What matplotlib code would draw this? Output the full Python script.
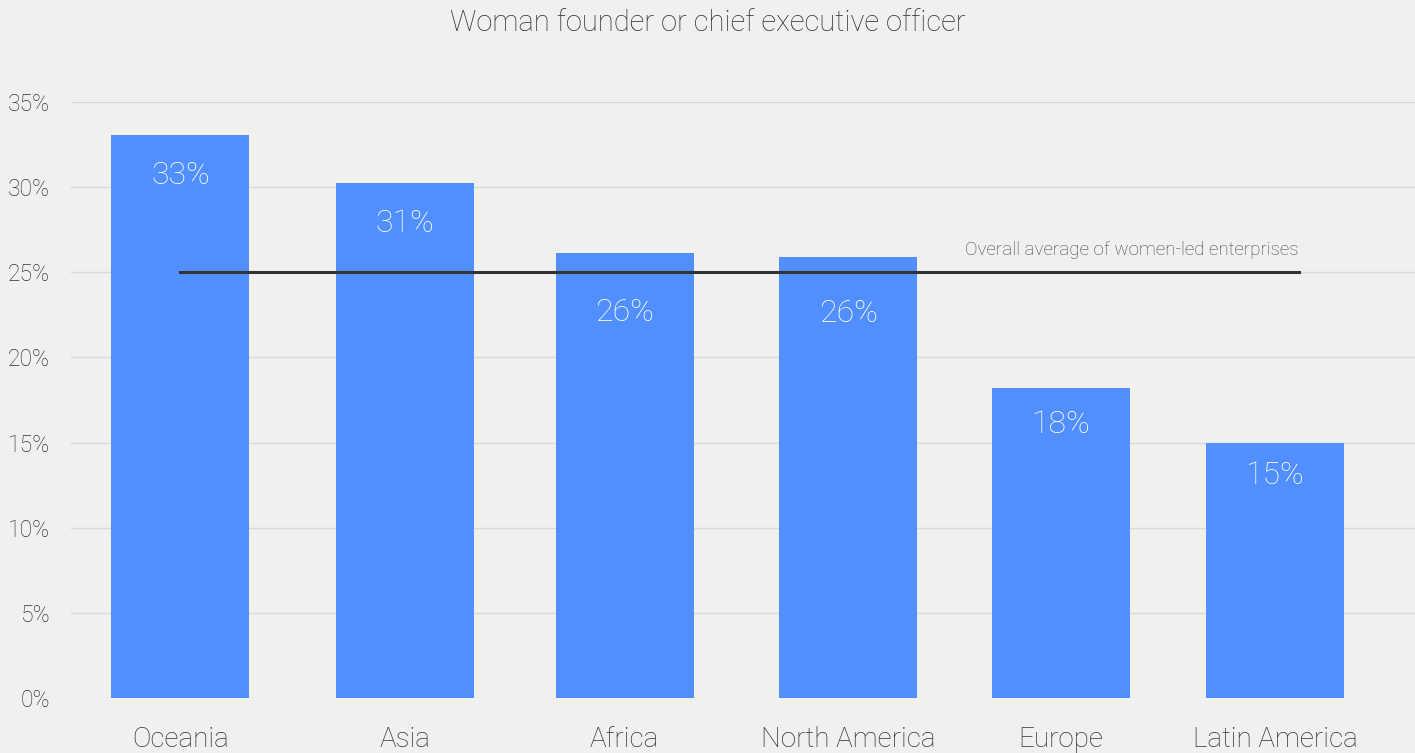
import numpy as np
import matplotlib.pyplot as plt

#--- data
regions = ["Oceania", "Asia", "Africa", "North America", "Europe", "Latin America"]
share = [33.05, 30.25, 26.15, 25.9, 18.2, 15.0]
labels = ["33%", "31%", "26%", "26%", "18%", "15%"]
overall_avg = 25.0
yticks = [0, 5, 10, 15, 20, 25, 30, 35]

# layout: bar centres (slightly uneven in the original) and label drops in px
x_pos = [0, 1.024, 2.029, 3.051, 4.022, 5.0]
label_drop = [40, 41, 60, 57, 36, 33]

plt.rcParams['font.family'] = ['Roboto', 'DejaVu Sans']
bg = '#f0f0ee'
txt = '#333333'

fig = plt.figure(figsize=(14.15, 7.53), dpi=100, facecolor=bg)
ax = fig.add_axes([71/1415, 1 - 698/753, 1 - 71/1415, (698 - 102)/753])
ax.set_facecolor(bg)

bars = ax.bar(x_pos, share, width=0.63, color='#528ffe', zorder=2)

# value labels inside the bars
px_per_unit = (698 - 102) / 35
for bar, lab, d in zip(bars, labels, label_drop):
    ax.text(bar.get_x() + bar.get_width()/2, bar.get_height() - d/px_per_unit, lab,
            ha='center', va='center', color='white', fontsize=23, fontweight='light', zorder=3)

# overall average line
x_end = 5.11
ax.plot([0, x_end], [overall_avg, overall_avg], color='#333333', lw=2.2, zorder=4)
ax.text(x_end, overall_avg + 1.3, "Overall average of women-led enterprises",
        ha='right', va='center', fontsize=13.5, color='#444444', fontweight='light')

ax.set_xlim(-0.5, 5.64)
ax.set_ylim(0, 35)
ax.set_yticks(yticks)
ax.set_yticklabels([f"{t}%" for t in yticks], fontsize=16.5, color=txt, fontweight='light')
ax.yaxis.grid(True, color='#d9d9d9', lw=1, zorder=0)
ax.set_xticks(x_pos)
ax.set_xticklabels(regions, fontsize=20, color=txt, fontweight='light')
ax.tick_params(axis='both', length=0)
ax.tick_params(axis='x', pad=20)
ax.tick_params(axis='y', pad=15)
for s in ax.spines.values():
    s.set_visible(False)

fig.text(0.5, 1 - 23/753, "Woman founder or chief executive officer", ha='center', va='center',
         fontsize=21, color=txt, fontweight='light')

fig.savefig("out.png", dpi=100, facecolor=bg)
